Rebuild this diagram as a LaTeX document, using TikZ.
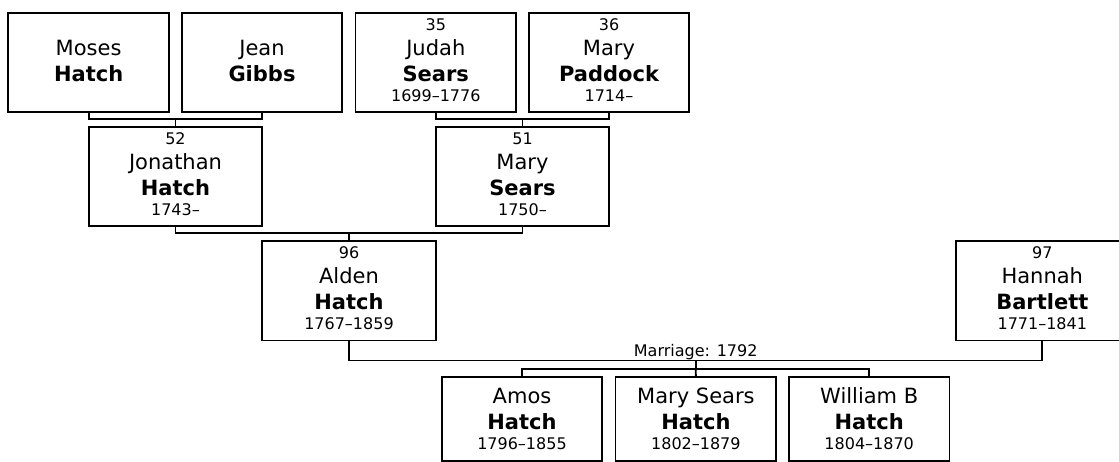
\documentclass[tikz,border=0pt]{standalone}
\usepackage{fontspec}
\setmainfont{DejaVu Sans}
\usetikzlibrary{calc}
\tikzset{
  x=1pt, y=-1pt,
  boxst/.style={draw, line width=1.8pt, inner sep=0pt, outer sep=0pt},
  conn/.style={draw, line width=1.8pt},
  small/.style={anchor=base, inner sep=0pt, font=\fontsize{16}{16}\selectfont},
  big/.style={anchor=base, inner sep=0pt, font=\fontsize{21}{21}\selectfont},
  bigb/.style={anchor=base, inner sep=0pt, font=\fontsize{21}{21}\selectfont\bfseries},
}
% #1 name, #2 cx, #3 cy, #4 w, #5 h, #6 number, #7 first, #8 last, #9 years
\newcommand\pbox[9]{%
  \node[boxst, minimum width=#4pt, minimum height=#5pt] (#1) at (#2,#3) {};
  \node[small] (#1-num) at ($(#1.south)+(0,-82)$) {#6};
  \node[big]   (#1-first) at ($(#1.south)+(0,-57)$) {#7};
  \node[bigb]  (#1-last) at ($(#1.south)+(0,-31)$) {#8};
  \node[small] (#1-yrs) at ($(#1.south)+(0,-11)$) {#9};
}
\begin{document}
\begin{tikzpicture}
\useasboundingbox (0,0) rectangle (1119,462);
\clip (0,0) rectangle (1119,462);
% top row
\pbox{moses}{88.6}{62.4}{160.7}{99.3}{}{Moses}{Hatch}{}
\pbox{jean}{262}{62.4}{160.7}{99.3}{}{Jean}{Gibbs}{}
\pbox{judah}{435.8}{62.4}{160.7}{99.3}{35}{Judah}{Sears}{1699–1776}
\pbox{paddock}{609}{62.4}{160.7}{99.3}{36}{Mary}{Paddock}{1714–}
% second row
\pbox{jonathan}{175.5}{176.4}{173.3}{99.3}{52}{Jonathan}{Hatch}{1743–}
\pbox{marys}{522.5}{176.4}{173.3}{99.3}{51}{Mary}{Sears}{1750–}
% third row
\pbox{alden}{349}{290.9}{173.3}{99.3}{96}{Alden}{Hatch}{1767–1859}
\pbox{hannah}{1042.3}{290.9}{173.3}{99.3}{97}{Hannah}{Bartlett}{1771–1841}
% children
\pbox{amos}{522}{418.7}{160.7}{84}{}{Amos}{Hatch}{1796–1855}
\pbox{msh}{695.9}{418.7}{160.7}{84}{}{Mary Sears}{Hatch}{1802–1879}
\pbox{william}{869.2}{418.7}{160.7}{84}{}{William B}{Hatch}{1804–1870}
% connectors
\coordinate (f1) at (175.5,119.3);
\coordinate (f2) at (522.5,119.3);
\coordinate (f3) at (349,233.3);
\coordinate (m)  at (695.7,360.5);
\coordinate (c)  at (695.7,369);
\draw[conn] (moses.south) |- (f1) -| (jean.south);
\draw[conn] (f1) -- (jonathan.north);
\draw[conn] (judah.south) |- (f2) -| (paddock.south);
\draw[conn] (f2) -- (marys.north);
\draw[conn] (jonathan.south) |- (f3) -| (marys.south);
\draw[conn] (f3) -- (alden.north);
\draw[conn] (alden.south) |- (m) -| (hannah.south);
\node[small] (mlab) at (695.7,356.8) {Marriage: 1792};
\draw[conn] (m) -- (c);
\draw[conn] (amos.north) |- (c) -| (william.north);
\draw[conn] (c) -- (msh.north);
\end{tikzpicture}
\end{document}
